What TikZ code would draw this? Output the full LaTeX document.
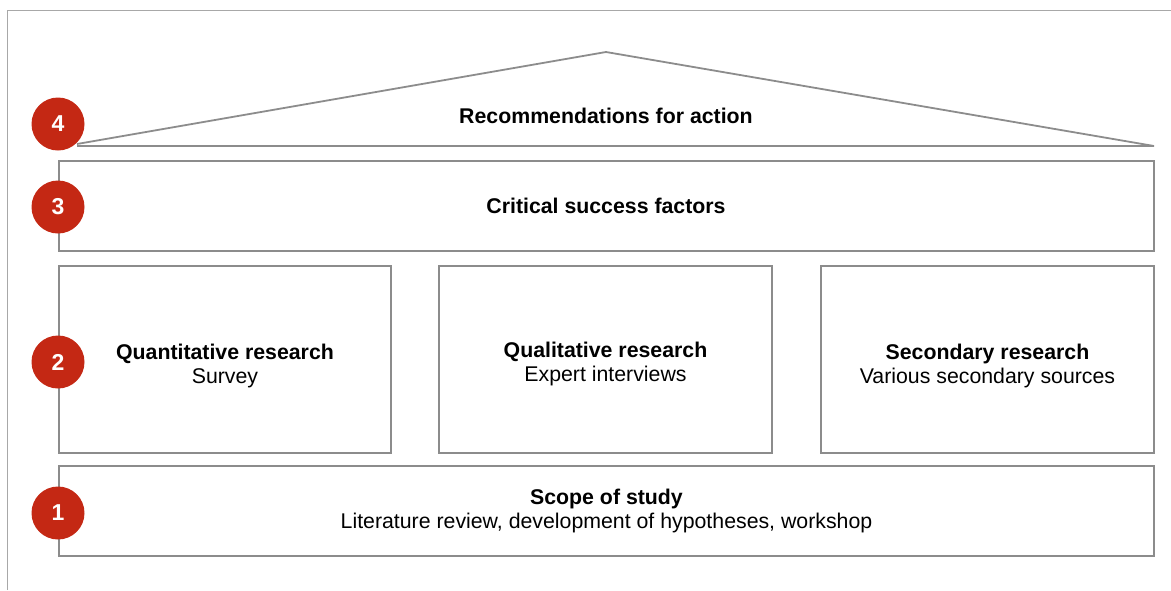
\documentclass[tikz,border=0pt]{standalone}
\usepackage{fontspec}
\setmainfont{Liberation Sans}
\begin{document}
\begin{tikzpicture}[x=1pt,y=-1pt,
  box/.style={draw=linegray, line width=1.8pt, fill=white, inner sep=0pt},
  num/.style={circle, fill=numred, text=white, minimum size=53pt, inner sep=0pt, font=\fontsize{23}{23}\selectfont\bfseries},
  lab/.style={align=center, font=\fontsize{21.3}{24}\selectfont, inner sep=0pt}]
\definecolor{linegray}{HTML}{8C8C8C}
\definecolor{framegray}{HTML}{A8A8A8}
\definecolor{numred}{HTML}{C42814}
\useasboundingbox (0,0) rectangle (1171,590);
\draw[framegray, line width=1.2pt] (7.5,590) -- (7.5,10.5) -- (1171,10.5);
% roof
\coordinate (roofL) at (77,144);
\coordinate (apex) at (606,52);
\coordinate (roofR) at (1154,146);
\coordinate (baseL) at (77,146);
\draw[linegray, line width=1.8pt, line join=miter] (roofL) -- (apex) -- (roofR) -- (baseL);
\node[lab] (rec) at (606,116) {\textbf{Recommendations for action}};
% boxes
\node[box, minimum width=1095pt, minimum height=90pt] (b3) at (606.5,206) {};
\node[box, minimum width=332pt, minimum height=187pt] (b2a) at (225,359.5) {};
\node[box, minimum width=333pt, minimum height=187pt] (b2b) at (605.5,359.5) {};
\node[box, minimum width=333pt, minimum height=187pt] (b2c) at (987.5,359.5) {};
\node[box, minimum width=1095pt, minimum height=90pt] (b1) at (606.5,511) {};
% labels
\node[lab] (t3) at (606,206) {\textbf{Critical success factors}};
\node[lab] (t2a) at ([yshift=-6pt]b2a.center) {\textbf{Quantitative research}\\Survey};
\node[lab] (t2b) at ([yshift=-4pt]b2b.center) {\textbf{Qualitative research}\\Expert interviews};
\node[lab] (t2c) at ([yshift=-6pt]b2c.center) {\textbf{Secondary research}\\Various secondary sources};
\node[lab] (t1) at ([yshift=0pt]b1.center) {\textbf{Scope of study}\\Literature review, development of hypotheses, workshop};
% numbers
\node[num] (n4) at (58,124) {4};
\node[num] (n3) at (58,207) {3};
\node[num] (n2) at (58,362) {2};
\node[num] (n1) at (58,513) {1};
\end{tikzpicture}
\end{document}
